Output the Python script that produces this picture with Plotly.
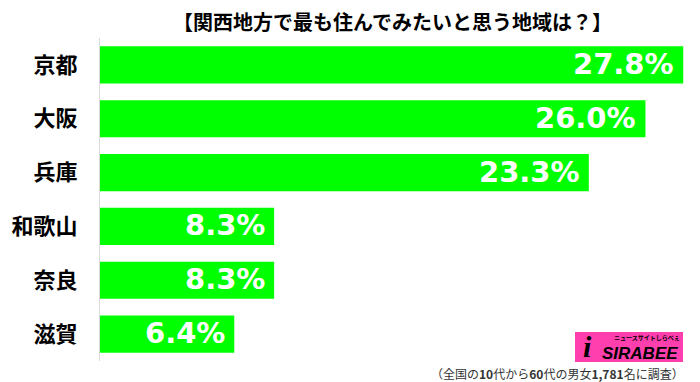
import plotly.graph_objects as go

categories = ["京都", "大阪", "兵庫", "和歌山", "奈良", "滋賀"]
values = [27.8, 26.0, 23.3, 8.3, 8.3, 6.4]
value_labels = ["27.8%", "26.0%", "23.3%", "8.3%", "8.3%", "6.4%"]
title_text = "【関西地方で最も住んでみたいと思う地域は？】"
footnote = "（全国の<b>10</b>代から<b>60</b>代の男女<b>1,781</b>名に調査）"

W, H = 700, 382
L, R, T, B = 100, 0, 38, 21
PW, PH = W - L - R, H - T - B

def px_x(px):
    return (px - L) / PW

def px_y(py):
    return (H - B - py) / PH

fig = go.Figure()
fig.add_trace(go.Bar(
    x=values, y=categories, orientation="h",
    marker=dict(color="#00ff00", line=dict(width=0)),
    width=0.69, hoverinfo="skip",
))

annotations = []
for c, v, t in zip(categories, values, value_labels):
    annotations.append(dict(
        x=v, y=c, xref="x", yref="y", text=t, showarrow=False,
        xanchor="right", yanchor="middle", xshift=-7, yshift=1,
        font=dict(family="DejaVu Sans", size=29, color="white", weight="bold"),
    ))

annotations.append(dict(
    x=px_x(392), y=px_y(21.5), xref="paper", yref="paper", text="<b>" + title_text + "</b>",
    showarrow=False, xanchor="center", yanchor="middle",
    font=dict(family="Noto Sans CJK JP", size=20, color="black"),
))
annotations.append(dict(
    x=px_x(686), y=px_y(373), xref="paper", yref="paper", text=footnote,
    showarrow=False, xanchor="right", yanchor="middle",
    font=dict(family="Noto Sans CJK JP", size=12, color="#333333"),
))
# logo
annotations.append(dict(
    x=px_x(640), y=px_y(353), xref="paper", yref="paper", text="<b><i>SIRABEE</i></b>",
    showarrow=False, xanchor="center", yanchor="middle", borderpad=0,
    font=dict(family="Liberation Sans", size=17, color="black"),
))
annotations.append(dict(
    x=px_x(647), y=px_y(337), xref="paper", yref="paper", text="<b>ニュースサイトしらべぇ</b>",
    showarrow=False, xanchor="center", yanchor="middle", borderpad=0,
    font=dict(family="Noto Sans CJK JP", size=6, color="black"),
))
annotations.append(dict(
    x=px_x(587), y=px_y(346), xref="paper", yref="paper", text="<b><i>i</i></b>",
    showarrow=False, xanchor="center", yanchor="middle", borderpad=0,
    font=dict(family="Liberation Serif", size=30, color="black"),
))

shapes = [dict(
    type="rect", xref="paper", yref="paper",
    x0=px_x(575), x1=px_x(683), y0=px_y(332), y1=px_y(362),
    fillcolor="#ff3fae", line=dict(width=0), layer="below",
)]

fig.update_layout(
    width=W, height=H,
    margin=dict(l=L, r=R, t=T, b=B),
    paper_bgcolor="white", plot_bgcolor="white",
    showlegend=False,
    bargap=0.31,
    annotations=annotations,
    shapes=shapes,
    xaxis=dict(range=[0, 28.6], showgrid=False, zeroline=False, showticklabels=False,
               showline=False, fixedrange=True),
    yaxis=dict(autorange="reversed", showgrid=False, zeroline=False,
               showline=True, linecolor="#d9d9d9", linewidth=1,
               ticks="", ticklabelstandoff=17, fixedrange=True,
               tickfont=dict(family="Noto Sans CJK JP", size=22, color="black", weight="bold")),
)

fig.write_html("out.html", config={"displayModeBar": False, "staticPlot": True},
               post_script="document.body.style.margin='0';document.body.style.overflow='hidden';")
